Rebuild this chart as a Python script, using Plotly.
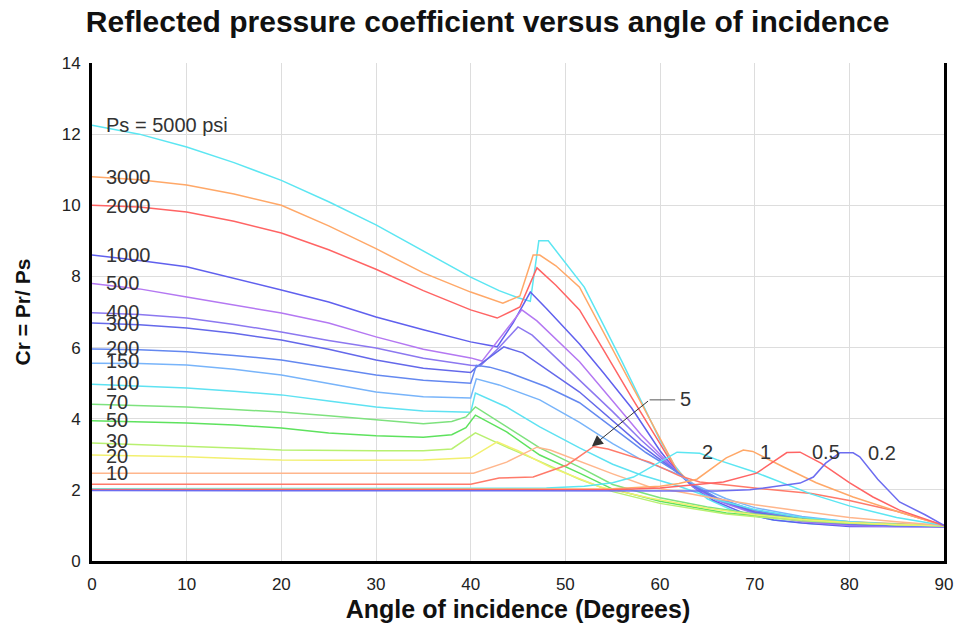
import plotly.graph_objects as go

# Reflected pressure coefficient curves
# angle of incidence (deg) / Cr for each incident pressure Ps (psi)
ang_5000 = [0, 5, 10, 15, 20, 25, 30, 35, 40, 43, 45, 46.3, 46.8, 47.2, 48.2, 50, 52, 54, 56, 58, 60, 61.5, 63, 65, 68, 72, 76, 80, 85, 90]
cr_5000 = [12.25, 12.0, 11.64, 11.2, 10.7, 10.1, 9.45, 8.72, 7.98, 7.6, 7.4, 7.3, 8.2, 9.0, 9.0, 8.4, 7.7, 6.65, 5.6, 4.5, 3.4, 2.7, 2.2, 1.75, 1.38, 1.15, 1.05, 1.0, 0.98, 0.97]

ang_3000 = [0, 5, 10, 15, 20, 25, 30, 35, 40, 43.4, 45.2, 46.6, 47.3, 49, 51.5, 54, 57, 60, 61.8, 63.5, 66, 70, 75, 80, 85, 90]
cr_3000 = [10.8, 10.72, 10.57, 10.32, 10.0, 9.42, 8.78, 8.1, 7.56, 7.25, 7.45, 8.6, 8.6, 8.3, 7.7, 6.45, 4.95, 3.45, 2.55, 2.15, 1.75, 1.4, 1.2, 1.1, 1.04, 1.0]

ang_2000 = [0, 5, 10, 15, 20, 25, 30, 35, 40, 42.8, 45.2, 47, 49, 51.5, 54, 57, 60, 61.8, 63.5, 66, 70, 75, 80, 85, 90]
cr_2000 = [10.0, 9.95, 9.81, 9.55, 9.22, 8.75, 8.2, 7.6, 7.06, 6.83, 7.14, 8.24, 7.75, 7.06, 5.95, 4.6, 3.3, 2.5, 2.12, 1.72, 1.38, 1.18, 1.07, 1.02, 1.0]

ang_1000 = [0, 5, 10, 15, 20, 25, 30, 35, 40, 42.8, 44.5, 46.3, 48, 51.5, 54, 57, 60, 61.8, 63.5, 65.6, 68.8, 72, 75, 80, 85, 90]
cr_1000 = [8.6, 8.45, 8.27, 7.95, 7.62, 7.28, 6.86, 6.5, 6.16, 6.02, 6.7, 7.56, 7.1, 6.1, 5.3, 4.3, 3.1, 2.5, 2.08, 1.71, 1.35, 1.15, 1.07, 0.97, 0.96, 0.96]

ang_500 = [0, 5, 10, 15, 20, 25, 30, 35, 40, 41.2, 43.3, 45.4, 47, 51.5, 55, 58, 61.8, 63.5, 66, 70, 75, 80, 85, 90]
cr_500 = [7.8, 7.65, 7.42, 7.2, 6.97, 6.69, 6.3, 5.95, 5.71, 5.62, 6.35, 7.06, 6.75, 5.6, 4.5, 3.55, 2.5, 2.1, 1.7, 1.33, 1.1, 1.0, 0.97, 0.96]

ang_400 = [0, 5, 10, 15, 20, 25, 30, 35, 40, 41, 43, 45, 46.5, 51.5, 55, 58, 61.8, 63.5, 66, 70, 75, 80, 85, 90]
cr_400 = [6.98, 6.93, 6.83, 6.65, 6.44, 6.2, 5.99, 5.7, 5.5, 5.48, 6.0, 6.58, 6.35, 5.1, 4.2, 3.4, 2.5, 2.1, 1.72, 1.35, 1.12, 1.02, 0.98, 0.96]

ang_300 = [0, 5, 10, 15, 20, 25, 30, 35, 40, 40.6, 43.5, 45.5, 51.5, 55, 58, 61.8, 63.5, 66, 70, 75, 80, 85, 90]
cr_300 = [6.69, 6.64, 6.55, 6.4, 6.21, 5.95, 5.65, 5.42, 5.3, 5.45, 6.02, 5.85, 4.75, 3.95, 3.25, 2.5, 2.12, 1.75, 1.38, 1.15, 1.04, 0.99, 0.97]

ang_200 = [0, 5, 10, 15, 20, 25, 30, 35, 40, 40.6, 42, 44, 48, 51.5, 55, 58.5, 61.8, 63.5, 66, 70, 75, 80, 85, 90]
cr_200 = [5.96, 5.94, 5.88, 5.78, 5.65, 5.45, 5.23, 5.08, 5.0, 5.5, 5.45, 5.3, 4.9, 4.45, 3.75, 3.05, 2.5, 2.15, 1.78, 1.42, 1.18, 1.07, 1.0, 0.97]

ang_150 = [0, 5, 10, 15, 20, 25, 30, 35, 40, 40.6, 43, 47.3, 51.5, 55, 58, 61.8, 64, 67, 70, 75, 80, 85, 90]
cr_150 = [5.56, 5.55, 5.51, 5.39, 5.23, 5.0, 4.75, 4.62, 4.58, 5.12, 4.95, 4.53, 3.9, 3.3, 2.85, 2.45, 2.1, 1.75, 1.5, 1.25, 1.1, 1.02, 0.98]

ang_100 = [0, 5, 10, 15, 20, 25, 30, 35, 40, 40.5, 43.8, 47.3, 51.5, 55, 58, 62, 66, 70, 75, 80, 85, 90]
cr_100 = [4.97, 4.92, 4.86, 4.77, 4.67, 4.5, 4.33, 4.22, 4.18, 4.72, 4.33, 3.77, 3.18, 2.72, 2.42, 2.1, 1.72, 1.45, 1.22, 1.1, 1.03, 0.99]

ang_70 = [0, 5, 10, 15, 20, 25, 30, 35, 38, 39.5, 40.5, 43.8, 47.3, 51.5, 55, 60, 65, 70, 75, 80, 85, 90]
cr_70 = [4.41, 4.38, 4.33, 4.26, 4.19, 4.08, 3.96, 3.86, 3.92, 4.05, 4.33, 3.77, 3.18, 2.64, 2.15, 1.78, 1.52, 1.32, 1.18, 1.08, 1.02, 0.99]

ang_50 = [0, 5, 10, 15, 20, 25, 30, 35, 38, 39.5, 40.5, 43.8, 47.3, 51.5, 55, 60, 67, 75, 80, 85, 90]
cr_50 = [3.94, 3.92, 3.88, 3.82, 3.74, 3.6, 3.52, 3.48, 3.55, 3.75, 4.1, 3.63, 2.98, 2.47, 2.02, 1.68, 1.35, 1.15, 1.07, 1.02, 0.99]

ang_30 = [0, 5, 10, 15, 20, 25, 30, 35, 38, 40.5, 43.8, 47.3, 51.5, 55, 60, 67, 75, 80, 85, 90]
cr_30 = [3.32, 3.28, 3.23, 3.18, 3.12, 3.1, 3.1, 3.1, 3.15, 3.6, 3.2, 2.8, 2.3, 1.95, 1.62, 1.32, 1.13, 1.06, 1.02, 0.99]

ang_20 = [0, 5, 10, 15, 20, 25, 30, 35, 40, 42.8, 45, 48.4, 53.7, 58.9, 65, 70, 75, 80, 85, 90]
cr_20 = [2.98, 2.96, 2.93, 2.88, 2.84, 2.83, 2.83, 2.84, 2.9, 3.35, 3.1, 2.64, 2.08, 1.77, 1.48, 1.3, 1.17, 1.08, 1.02, 0.99]

ang_10 = [0, 10, 20, 30, 40.3, 43.8, 47, 48.4, 52, 55, 58.9, 62, 66, 70, 75, 80, 85, 90]
cr_10 = [2.47, 2.47, 2.47, 2.47, 2.47, 2.78, 3.2, 3.12, 2.75, 2.45, 2.08, 1.95, 1.75, 1.58, 1.4, 1.22, 1.1, 1.0]

ang_5 = [0, 10, 20, 30, 40, 43, 46.6, 50.2, 53, 54.5, 58.9, 62, 64.2, 70, 76, 80, 85, 90]
cr_5 = [2.16, 2.16, 2.16, 2.16, 2.16, 2.33, 2.36, 2.7, 3.22, 3.15, 2.78, 2.4, 2.22, 2.05, 1.9, 1.7, 1.4, 1.0]

ang_2 = [0, 20, 40, 48, 52, 55, 57.2, 60, 61.8, 64.2, 66, 70, 73, 76, 80, 85, 90]
cr_2 = [2.03, 2.03, 2.03, 2.05, 2.1, 2.2, 2.36, 2.78, 3.06, 3.03, 2.85, 2.5, 2.2, 1.88, 1.55, 1.22, 1.0]

ang_1 = [0, 20, 40, 55, 60, 62, 63.9, 65.3, 67, 68.8, 69.8, 73, 76.5, 80.4, 85, 90]
cr_1 = [2.01, 2.01, 2.01, 2.03, 2.1, 2.18, 2.3, 2.56, 2.9, 3.12, 3.08, 2.65, 2.2, 1.8, 1.4, 1.0]

ang_05 = [0, 20, 40, 55, 60, 63, 66.7, 70.2, 72, 73.4, 74.8, 77, 80, 82.5, 85.3, 90]
cr_05 = [2.0, 2.0, 2.0, 2.0, 2.05, 2.12, 2.22, 2.47, 2.8, 3.05, 3.06, 2.75, 2.2, 1.8, 1.43, 1.0]

ang_02 = [0, 20, 40, 55, 62, 66, 69.5, 72, 74.8, 76.2, 77.5, 79, 80.4, 81.1, 83, 85.3, 88, 90]
cr_02 = [1.98, 1.98, 1.98, 1.98, 1.98, 1.97, 2.0, 2.08, 2.19, 2.36, 2.75, 3.04, 3.04, 2.93, 2.3, 1.66, 1.3, 1.0]

curves = [
    ("5000", ang_5000, cr_5000, "#5CE6F2"),
    ("3000", ang_3000, cr_3000, "#FFA868"),
    ("2000", ang_2000, cr_2000, "#FF6464"),
    ("1000", ang_1000, cr_1000, "#6060EE"),
    ("500", ang_500, cr_500, "#B478F2"),
    ("400", ang_400, cr_400, "#8C78F0"),
    ("300", ang_300, cr_300, "#6468EA"),
    ("200", ang_200, cr_200, "#6488F0"),
    ("150", ang_150, cr_150, "#78B4FA"),
    ("100", ang_100, cr_100, "#5EE2F2"),
    ("70", ang_70, cr_70, "#7EE27E"),
    ("50", ang_50, cr_50, "#5EE25E"),
    ("30", ang_30, cr_30, "#B8F070"),
    ("20", ang_20, cr_20, "#F2F070"),
    ("10", ang_10, cr_10, "#FFB68C"),
    ("5", ang_5, cr_5, "#FF7A6A"),
    ("2", ang_2, cr_2, "#5CE6F2"),
    ("1", ang_1, cr_1, "#FFA868"),
    ("0.5", ang_05, cr_05, "#FF6464"),
    ("0.2", ang_02, cr_02, "#6C6CF0"),
]

# labels at left edge: text, Cr level
left_labels = ["Ps = 5000 psi", "3000", "2000", "1000", "500", "400", "300", "200",
               "150", "100", "70", "50", "30", "20", "10"]
left_label_y = [12.26, 10.8, 9.98, 8.6, 7.82, 7.0, 6.66, 5.99, 5.62, 5.0, 4.47, 3.96, 3.37, 2.95, 2.47]

# labels over the low-pressure humps
hump_labels = ["2", "1", "0.5", "0.2"]
hump_label_x = [64.2, 70.3, 75.8, 81.8]
hump_label_y = [3.06, 3.06, 3.06, 3.03]

FONT = "Arial, Liberation Sans, sans-serif"

fig = go.Figure()
for name, a, v, col in curves:
    fig.add_trace(go.Scatter(x=a, y=v, mode="lines", name=name,
                             line=dict(color=col, width=1.5),
                             showlegend=False, hoverinfo="skip"))

annotations = []
for t, y in zip(left_labels, left_label_y):
    annotations.append(dict(x=1.3, y=y, text=t, xref="x", yref="y", xanchor="left",
                            yanchor="middle", showarrow=False,
                            font=dict(size=20, color="#333333", family=FONT)))
for t, x, y in zip(hump_labels, hump_label_x, hump_label_y):
    annotations.append(dict(x=x, y=y, text=t, xref="x", yref="y", xanchor="left",
                            yanchor="middle", showarrow=False,
                            font=dict(size=20, color="#333333", family=FONT)))

# "5" callout with arrow
annotations.append(dict(x=52.8, y=3.22, ax=58.9, ay=4.53, axref="x", ayref="y",
                        xref="x", yref="y", text="", showarrow=True,
                        arrowhead=2, arrowsize=2.2, arrowwidth=1, arrowcolor="#333333"))
annotations.append(dict(x=61.9, y=4.55, text="5", xref="x", yref="y", xanchor="left",
                        yanchor="middle", showarrow=False,
                        font=dict(size=20, color="#333333", family=FONT)))

fig.add_shape(type="line", x0=58.9, y0=4.53, x1=61.6, y1=4.53, xref="x", yref="y",
              line=dict(color="#555555", width=1))

fig.update_layout(
    width=960, height=624,
    autosize=False,
    paper_bgcolor="white",
    plot_bgcolor="white",
    margin=dict(l=92, r=16, t=63, b=63),
    title=dict(text="<b>Reflected pressure coefficient versus angle of incidence</b>",
               x=0.508, xanchor="center", y=0.965, yanchor="middle",
               font=dict(size=30, color="#111111", family=FONT)),
    annotations=annotations,
)

fig.update_xaxes(range=[0, 90], dtick=10, tick0=0, automargin=False,
                 showgrid=True, gridcolor="#DDDDDD", gridwidth=1,
                 showline=True, linecolor="black", linewidth=3,
                 zeroline=False, ticks="", ticklabelstandoff=6,
                 tickfont=dict(size=17, color="#222222", family=FONT),
                 title=dict(text="<b>Angle of incidence (Degrees)</b>", standoff=8,
                            font=dict(size=25, color="#111111", family=FONT)))
fig.update_yaxes(range=[0, 14], dtick=2, tick0=0, automargin=False,
                 showgrid=True, gridcolor="#DDDDDD", gridwidth=1,
                 showline=True, linecolor="black", linewidth=3, mirror=True,
                 zeroline=False, ticks="", ticklabelstandoff=5,
                 tickfont=dict(size=17, color="#222222", family=FONT),
                 title=dict(text="<b>Cr = Pr/ Ps</b>", standoff=26,
                            font=dict(size=21, color="#111111", family=FONT)))

# drop the page's default 8px body margin so the figure sits at the window corner
fig.write_html("out.html", config={"displayModeBar": False},
               post_script="document.body.style.margin='0';")
